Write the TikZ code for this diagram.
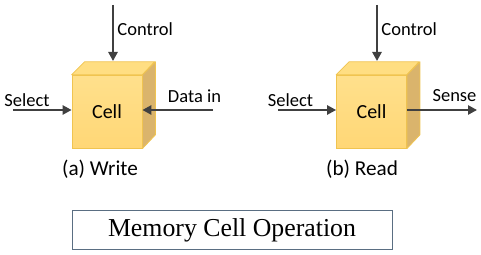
\documentclass[tikz,border=0pt]{standalone}
\usepackage{fontspec}
\setmainfont{Carlito}
\newfontfamily\titlefont{Liberation Serif}
\usetikzlibrary{arrows.meta,calc}
\definecolor{Cfront}{RGB}{255,215,118}
\definecolor{Cfrontt}{RGB}{255,224,140}
\definecolor{Ctop}{RGB}{255,222,130}
\definecolor{Cside}{RGB}{218,180,108}
\definecolor{Cedge}{RGB}{240,196,80}
\definecolor{Carr}{RGB}{64,64,64}
\definecolor{Cbox}{RGB}{90,110,130}

\begin{document}
\begin{tikzpicture}[x=0.5pt,y=-0.5pt,
    cellface/.style={rectangle,draw=Cedge,line width=0.4pt,
      top color=Cfrontt,bottom color=Cfront,
      minimum width=35pt,minimum height=36.5pt,inner sep=0pt,
      font=\fontsize{10}{12}\selectfont},
    sig/.style={Carr,line width=1pt,-{Triangle[length=4.5pt,width=4.6pt]}},
    lbl/.style={inner sep=0pt,font=\fontsize{9.25}{11}\selectfont,text=black},
    captxt/.style={inner sep=0pt,font=\fontsize{10.6}{12}\selectfont}]
    \useasboundingbox[fill=white] (0,0) rectangle (481,255);

    % the two cells
    \node[cellface] (cellA) at (107,111.7) {Cell};
    \node[cellface] (cellB) at (371.5,111.7) {Cell};
    \foreach \c in {cellA,cellB}{
      \filldraw[fill=Ctop,draw=Cedge,line width=0.4pt,line join=round]
        (\c.north west) -- ++(13,-13) -- ++(70,0) -- (\c.north east) -- cycle;
      \filldraw[fill=Cside,draw=Cedge,line width=0.4pt,line join=round]
        (\c.north east) -- ++(13,-13) -- ++(0,73) -- (\c.south east) -- cycle;
    }

    % write
    \coordinate (ctlA) at (113,5);
    \coordinate (topA) at (113,61);
    \coordinate (selA) at (13,110);
    \coordinate (datA) at (213,110);
    \draw[sig] (ctlA) -- (topA);
    \draw[sig] (selA) -- (selA -| cellA.west);
    \draw[sig] (datA) -- (datA -| cellA.east);
    \node[lbl,anchor=west] (ctlAtxt) at (117,29) {Control};
    \node[lbl] (selAtxt) at (27,100) {Select};
    \node[lbl] (datAtxt) at (194.5,96) {Data in};
    \node[captxt] (capA) at (100,169) {(a) Write};

    % read
    \coordinate (ctlB) at (377,5);
    \coordinate (topB) at (377,61);
    \coordinate (selB) at (278,110);
    \coordinate (senB) at (477,110);
    \draw[sig] (ctlB) -- (topB);
    \draw[sig] (selB) -- (selB -| cellB.west);
    \draw[sig] (senB -| cellB.east) -- (senB);
    \node[lbl,anchor=west] (ctlBtxt) at (381,29) {Control};
    \node[lbl] (selBtxt) at (290.5,100) {Select};
    \node[lbl] (senBtxt) at (454.5,96) {Sense};
    \node[captxt] (capB) at (362,169) {(b) Read};

    \node[draw=Cbox,line width=0.5pt,minimum width=160pt,minimum height=19.5pt,
      font=\titlefont\fontsize{12.9}{14}\selectfont] (title) at (232,230.5)
      {Memory Cell Operation};
  \end{tikzpicture}
\end{document}
